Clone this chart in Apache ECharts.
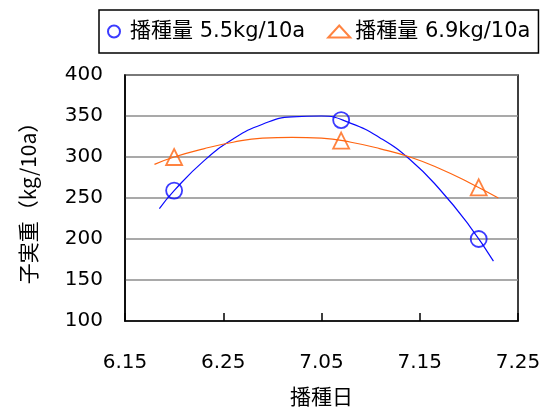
<!DOCTYPE html>
<html>
<head>
<meta charset="utf-8">
<script src="https://cdn.jsdelivr.net/npm/echarts@6/dist/echarts.min.js"></script>
<style>
  html, body { margin: 0; padding: 0; background: #fff; }
  #chart { width: 549px; height: 412px; }
</style>
</head>
<body>
<div id="chart"></div>
<script>
// 横軸は 6/15 からの日数
const xTickLabels = ['6.15', '6.25', '7.05', '7.15', '7.25'];
const seriesNames = ['播種量 5.5kg/10a', '播種量 6.9kg/10a'];

// 実測点 [日数, 子実重]
const obsLow = [[5, 259], [22, 345], [36, 200]];
const obsHigh = [[5, 300], [22, 320], [36, 263]];

// 近似曲線
const trendLow = [
  [3.5, 237], [5, 259], [8, 295], [11, 322], [14, 340], [17, 349], [20, 350],
  [23, 341], [26, 323], [29, 297], [32, 261], [35, 217], [37.5, 173]
];
const trendHigh = [
  [3, 291], [5, 300], [8, 310], [11, 318], [14, 323], [17, 324], [20, 323],
  [23, 318], [26, 310], [29, 300], [32, 286], [35, 269], [38, 250]
];

const blue = '#0a0aff';
const orange = '#ff6410';
const font = '"DejaVu Sans", "Noto Sans CJK JP", sans-serif';
const cjk = '"Noto Sans CJK JP", sans-serif';

const chart = echarts.init(document.getElementById('chart'));

chart.setOption({
  animation: false,
  legend: {
    left: 99,
    top: 10,
    padding: [11, 8, 11, 8],
    itemGap: 22,
    itemWidth: 22,
    itemHeight: 12,
    borderColor: '#000',
    borderWidth: 1.5,
    data: seriesNames,
    textStyle: { fontFamily: font, fontSize: 21, color: '#000' }
  },
  grid: {
    left: 125,
    right: 31,
    top: 75,
    bottom: 86,
    show: true,
    borderColor: '#000',
    borderWidth: 1.5
  },
  xAxis: {
    type: 'value',
    min: 0,
    max: 40,
    interval: 10,
    name: '播種日',
    nameLocation: 'middle',
    nameGap: 65,
    nameTextStyle: { fontFamily: cjk, fontSize: 21, color: '#000' },
    axisLine: { lineStyle: { color: '#000', width: 1.5 } },
    axisTick: { inside: true, length: 8, lineStyle: { color: '#000', width: 1.5 } },
    axisLabel: {
      margin: 32,
      fontFamily: font,
      fontSize: 20,
      color: '#000',
      formatter: v => xTickLabels[Math.round(v / 10)]
    },
    splitLine: { show: false }
  },
  yAxis: {
    type: 'value',
    min: 100,
    max: 400,
    interval: 50,
    name: '子実重（kg/10a）',
    nameLocation: 'middle',
    nameGap: 86,
    nameRotate: 90,
    nameTextStyle: { fontFamily: cjk, fontSize: 21, color: '#000' },
    axisLine: { show: true, lineStyle: { color: '#000', width: 1.5 } },
    axisTick: { show: false },
    axisLabel: { margin: 22, fontFamily: font, fontSize: 20, color: '#000' },
    splitLine: { lineStyle: { color: '#8c8c8c', width: 1.5 } }
  },
  series: [
    {
      name: seriesNames[0] + ' 近似',
      type: 'line',
      data: trendLow,
      smooth: true,
      showSymbol: false,
      lineStyle: { color: blue, width: 1.2 },
      z: 2
    },
    {
      name: seriesNames[1] + ' 近似',
      type: 'line',
      data: trendHigh,
      smooth: true,
      showSymbol: false,
      lineStyle: { color: orange, width: 1.2 },
      z: 2
    },
    {
      name: seriesNames[0],
      type: 'scatter',
      data: obsLow,
      symbol: 'circle',
      symbolSize: 16,
      itemStyle: { color: 'rgba(255,255,255,0)', borderColor: blue, borderWidth: 1.8 },
      z: 3
    },
    {
      name: seriesNames[1],
      type: 'scatter',
      data: obsHigh,
      symbol: 'triangle',
      symbolSize: 16,
      itemStyle: { color: 'rgba(255,255,255,0)', borderColor: orange, borderWidth: 1.8 },
      z: 3
    }
  ]
});
</script>
</body>
</html>
